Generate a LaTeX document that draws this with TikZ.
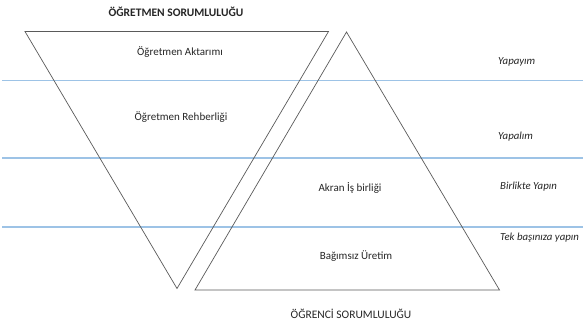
\documentclass[tikz,border=0pt]{standalone}
\usepackage{fontspec}
\setmainfont{Carlito}
\definecolor{bluel}{HTML}{9DC3E6}
\definecolor{tri}{HTML}{5A5A5A}
\begin{document}
\begin{tikzpicture}[x=1pt,y=-1pt,
  band/.style={draw=bluel,line width=1.1pt},
  triline/.style={draw=tri,line width=0.7pt,line join=miter},
  lbl/.style={font=\fontsize{11}{13}\selectfont,text=black!85,inner sep=0pt},
  act/.style={font=\fontsize{10.8}{12}\selectfont\itshape,text=black!85,inner sep=0pt,anchor=west},
  head/.style={text=black!85,inner sep=0pt}]
\useasboundingbox[fill=white] (0,0) rectangle (583,325);
% blue band lines
\coordinate (b1l) at (2,80.5); \coordinate (b1r) at (583,80.5);
\coordinate (b2l) at (2,158); \coordinate (b2r) at (583,158);
\coordinate (b3l) at (2,227); \coordinate (b3r) at (583,227);
\draw[band] (b1l) -- (b1r);
\draw[band] (b2l) -- (b2r);
\draw[band] (b3l) -- (b3r);
% inverted triangle
\coordinate (t1) at (25,31.5); \coordinate (t2) at (328.5,31.5); \coordinate (t3) at (177,288.5);
\draw[triline] (t1) -- (t2) -- (t3) -- cycle;
% upright triangle
\coordinate (u1) at (346.5,32); \coordinate (u2) at (499.5,290); \coordinate (u3) at (195,290);
\draw[triline] (u1) -- (u2) -- (u3) -- cycle;
% texts
\node[head,font=\fontsize{11.5}{13}\selectfont\bfseries] (h1) at (176,12) {ÖĞRETMEN SORUMLULUĞU};
\node[lbl] (a1) at (180,52) {Öğretmen Aktarımı};
\node[lbl] (a2) at (181,117) {Öğretmen Rehberliği};
\node[lbl] (a3) at (350,188) {Akran İş birliği};
\node[lbl] (a4) at (356,256) {Bağımsız Üretim};
\node[head,font=\fontsize{11.5}{13}\selectfont] (h2) at (351,314) {ÖĞRENCİ SORUMLULUĞU};
\node[act] (y1) at (498,62) {Yapayım};
\node[act] (y2) at (498,137) {Yapalım};
\node[act] (y3) at (500,187) {Birlikte Yapın};
\node[act] (y4) at (500,238) {Tek başınıza yapın};
\end{tikzpicture}
\end{document}
